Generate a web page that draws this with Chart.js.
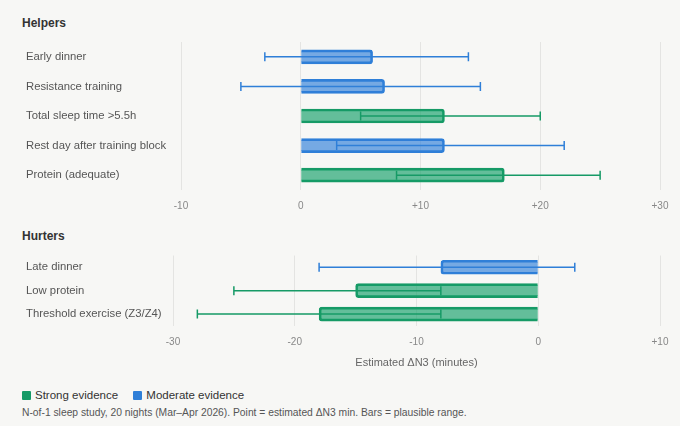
<!DOCTYPE html>
<html>
<head>
<meta charset="utf-8">
<script src="https://cdn.jsdelivr.net/npm/chart.js@4.4.1/dist/chart.umd.min.js"></script>
<style>
  html, body { margin: 0; padding: 0; background: #f7f7f5; }
  body { width: 680px; height: 426px; position: relative; overflow: hidden; font-family: "Liberation Sans", Arial, sans-serif; }
  .head { position: absolute; left: 22px; font-size: 12px; font-weight: 600; color: #333; line-height: 16px; }
  .box { position: absolute; left: 0; width: 680px; }
  #legend { position: absolute; left: 22px; top: 388px; font-size: 11.5px; color: #333; line-height: 14px; }
  #legend span.sw { display: inline-block; width: 9px; height: 9px; border-radius: 1px; margin-right: 4px; vertical-align: -1px; }
  #legend span.item { margin-right: 12px; }
  #note { position: absolute; left: 22px; top: 406px; font-size: 10.3px; color: #555; line-height: 14px; }
</style>
</head>
<body>
<div class="head" style="top:15px">Helpers</div>
<div class="box" style="top:32px;height:188px"><canvas id="helpers"></canvas></div>
<div class="head" style="top:228px">Hurters</div>
<div class="box" style="top:246px;height:128px"><canvas id="hurters"></canvas></div>
<div id="legend">
  <span class="item"><span class="sw" style="background:#169a66"></span>Strong evidence</span>
  <span class="item"><span class="sw" style="background:#2f7fd8"></span>Moderate evidence</span>
</div>
<div id="note">N-of-1 sleep study, 20 nights (Mar–Apr 2026). Point = estimated ΔN3 min. Bars = plausible range.</div>
<script>
// helpers panel
var helperLabels = ["Early dinner", "Resistance training", "Total sleep time >5.5h", "Rest day after training block", "Protein (adequate)"];
var helperPoint = [6, 7, 12, 12, 17];
var helperLow = [-3, -5, 5, 3, 8];
var helperHigh = [14, 15, 20, 22, 25];
var helperEvidence = ["moderate", "moderate", "strong", "moderate", "strong"];
var helperTicks = [-10, 0, 10, 20, 30];

// hurters panel
var hurterLabels = ["Late dinner", "Low protein", "Threshold exercise (Z3/Z4)"];
var hurterPoint = [-8, -15, -18];
var hurterLow = [-18, -25, -28];
var hurterHigh = [3, -8, -8];
var hurterEvidence = ["moderate", "strong", "strong"];
var hurterTicks = [-30, -20, -10, 0, 10];

var fills = { strong: "rgba(20,160,105,0.65)", moderate: "rgba(47,127,216,0.65)" };
var lines = { strong: "#169a66", moderate: "#2f7fd8" };

// whiskers for the plausible range, placed with the chart's own scales
var rangePlugin = {
  id: 'rangeBars',
  afterDatasetsDraw: function (chart) {
    var ctx = chart.ctx;
    var x = chart.scales.x;
    var meta = chart.getDatasetMeta(0);
    var r = chart.options.plugins.rangeBars;
    ctx.save();
    ctx.lineWidth = 1.5;
    meta.data.forEach(function (bar, i) {
      var y = bar.y;
      var x1 = x.getPixelForValue(r.low[i]);
      var x2 = x.getPixelForValue(r.high[i]);
      ctx.strokeStyle = lines[r.evidence[i]];
      ctx.beginPath();
      ctx.moveTo(x1, y); ctx.lineTo(x2, y);
      ctx.moveTo(x1, y - 4.5); ctx.lineTo(x1, y + 4.5);
      ctx.moveTo(x2, y - 4.5); ctx.lineTo(x2, y + 4.5);
      ctx.stroke();
    });
    ctx.restore();
  }
};

function makeChart(id, labels, point, low, high, evidence, ticks, showTitle, pad, yWidth, tickLen) {
  return new Chart(document.getElementById(id), {
    type: 'bar',
    data: {
      labels: labels,
      datasets: [{
        label: 'Estimated ΔN3',
        data: point,
        backgroundColor: evidence.map(function (e) { return fills[e]; }),
        borderColor: evidence.map(function (e) { return lines[e]; }),
        borderWidth: 2,
        borderRadius: 3,
        barThickness: 14
      }]
    },
    options: {
      indexAxis: 'y',
      responsive: true,
      maintainAspectRatio: false,
      animation: false,
      layout: { padding: pad },
      plugins: {
        legend: { display: false },
        tooltip: { enabled: false },
        rangeBars: { low: low, high: high, evidence: evidence }
      },
      scales: {
        x: {
          min: ticks[0],
          max: ticks[ticks.length - 1],
          afterBuildTicks: function (axis) { axis.ticks = ticks.map(function (v) { return { value: v }; }); },
          grid: { color: '#e4e4e2', drawTicks: true, tickLength: tickLen, tickColor: 'rgba(0,0,0,0)' },
          border: { display: false },
          ticks: {
            padding: 0,
            color: '#888',
            font: { family: 'Liberation Sans', size: 10 },
            callback: function (v) { return v > 0 ? '+' + v : String(v); }
          },
          title: {
            display: showTitle,
            text: 'Estimated ΔN3 (minutes)',
            color: '#666',
            font: { family: 'Liberation Sans', size: 11 },
            padding: { top: 9, bottom: 4 }
          }
        },
        y: {
          afterFit: function (axis) { axis.width = yWidth; },
          grid: { display: false, drawTicks: false },
          border: { display: false },
          ticks: {
            crossAlign: 'far',
            padding: 0,
            color: '#555',
            font: { family: 'Liberation Sans', size: 11.3 }
          }
        }
      }
    },
    plugins: [rangePlugin]
  });
}

makeChart('helpers', helperLabels, helperPoint, helperLow, helperHigh, helperEvidence, helperTicks, false,
  { top: 10, left: 26, right: 20, bottom: 8 }, 155, 10);
makeChart('hurters', hurterLabels, hurterPoint, hurterLow, hurterHigh, hurterEvidence, hurterTicks, true,
  { top: 9.5, left: 26, right: 20, bottom: 0 }, 147, 10);
</script>
</body>
</html>
